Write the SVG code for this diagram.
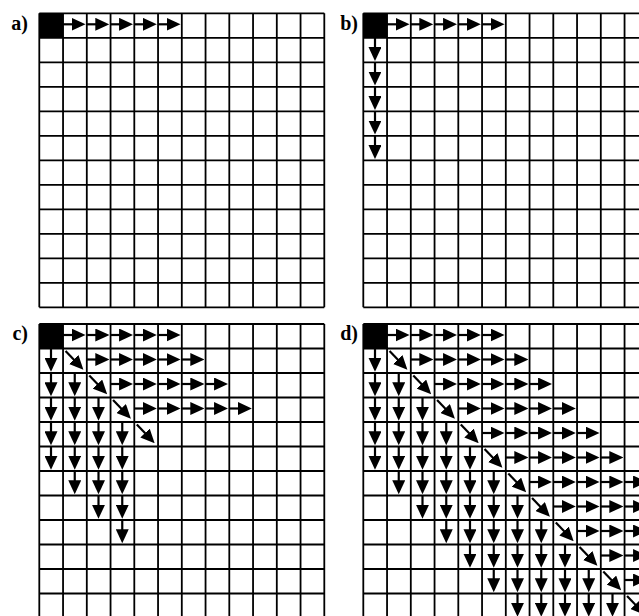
<svg xmlns="http://www.w3.org/2000/svg" width="639" height="616" viewBox="0 0 639 616">
<style>
.grid{fill:none;stroke:#000;stroke-width:1.8}
.arr{stroke:#000;stroke-width:2.2;fill:none;marker-end:url(#head)}
.lbl{font-family:"Liberation Serif","Times New Roman",serif;font-weight:bold;font-size:20px;fill:#000;text-anchor:end}
</style>
<defs>
<marker id="head" markerUnits="userSpaceOnUse" markerWidth="14" markerHeight="13" refX="10" refY="6.5" orient="auto" viewBox="0 0 14 13">
<path d="M0,0 L14,6.5 L0,13 z" fill="#000"/>
</marker>
<g id="grid">
<rect width="23.75" height="24.5" fill="#000"/>
<path class="grid" d="M0,0V294M23.75,0V294M47.5,0V294M71.25,0V294M95,0V294M118.75,0V294M142.5,0V294M166.25,0V294M190,0V294M213.75,0V294M237.5,0V294M261.25,0V294M285,0V294M0,0H285M0,24.5H285M0,49H285M0,73.5H285M0,98H285M0,122.5H285M0,147H285M0,171.5H285M0,196H285M0,220.5H285M0,245H285M0,269.5H285M0,294H285"/>
</g>
<line id="h" class="arr" x1="0" y1="11" x2="18.5" y2="11"/>
<line id="v" class="arr" x1="11.7" y1="0" x2="11.7" y2="19.3"/>
<line id="d" class="arr" x1="2.5" y1="2.5" x2="17.6" y2="18.3"/>
</defs>

<g id="panel-a" transform="translate(39.3,13.3)">
<use href="#grid"/>
<g id="connectors-a">
<use href="#h" x="23.75" y="0"/><use href="#h" x="47.5" y="0"/><use href="#h" x="71.25" y="0"/><use href="#h" x="95" y="0"/><use href="#h" x="118.75" y="0"/>
</g>
</g>
<text class="lbl" x="28" y="30">a)</text>

<g id="panel-b" transform="translate(363.3,13.3)">
<use href="#grid"/>
<g id="connectors-b">
<use href="#h" x="23.75" y="0"/><use href="#h" x="47.5" y="0"/><use href="#h" x="71.25" y="0"/><use href="#h" x="95" y="0"/><use href="#h" x="118.75" y="0"/>
<use href="#v" x="0" y="24.5"/><use href="#v" x="0" y="49"/><use href="#v" x="0" y="73.5"/><use href="#v" x="0" y="98"/><use href="#v" x="0" y="122.5"/>
</g>
</g>
<text class="lbl" x="358" y="30">b)</text>

<g id="panel-c" transform="translate(39.3,324)">
<use href="#grid"/>
<g id="connectors-c">
<use href="#h" x="23.75" y="0"/><use href="#h" x="47.5" y="0"/><use href="#h" x="71.25" y="0"/><use href="#h" x="95" y="0"/><use href="#h" x="118.75" y="0"/>
<use href="#d" x="23.75" y="24.5"/>
<use href="#h" x="47.5" y="24.5"/><use href="#h" x="71.25" y="24.5"/><use href="#h" x="95" y="24.5"/><use href="#h" x="118.75" y="24.5"/><use href="#h" x="142.5" y="24.5"/>
<use href="#d" x="47.5" y="49"/>
<use href="#h" x="71.25" y="49"/><use href="#h" x="95" y="49"/><use href="#h" x="118.75" y="49"/><use href="#h" x="142.5" y="49"/><use href="#h" x="166.25" y="49"/>
<use href="#d" x="71.25" y="73.5"/>
<use href="#h" x="95" y="73.5"/><use href="#h" x="118.75" y="73.5"/><use href="#h" x="142.5" y="73.5"/><use href="#h" x="166.25" y="73.5"/><use href="#h" x="190" y="73.5"/>
<use href="#d" x="95" y="98"/>
<use href="#v" x="0" y="24.5"/><use href="#v" x="0" y="49"/><use href="#v" x="0" y="73.5"/><use href="#v" x="0" y="98"/><use href="#v" x="0" y="122.5"/>
<use href="#v" x="23.75" y="49"/><use href="#v" x="23.75" y="73.5"/><use href="#v" x="23.75" y="98"/><use href="#v" x="23.75" y="122.5"/><use href="#v" x="23.75" y="147"/>
<use href="#v" x="47.5" y="73.5"/><use href="#v" x="47.5" y="98"/><use href="#v" x="47.5" y="122.5"/><use href="#v" x="47.5" y="147"/><use href="#v" x="47.5" y="171.5"/>
<use href="#v" x="71.25" y="98"/><use href="#v" x="71.25" y="122.5"/><use href="#v" x="71.25" y="147"/><use href="#v" x="71.25" y="171.5"/><use href="#v" x="71.25" y="196"/>
</g>
</g>
<text class="lbl" x="28" y="340">c)</text>

<g id="panel-d" transform="translate(363.3,324)">
<use href="#grid"/>
<g id="connectors-d">
<use href="#h" x="23.75" y="0"/><use href="#h" x="47.5" y="0"/><use href="#h" x="71.25" y="0"/><use href="#h" x="95" y="0"/><use href="#h" x="118.75" y="0"/>
<use href="#d" x="23.75" y="24.5"/>
<use href="#h" x="47.5" y="24.5"/><use href="#h" x="71.25" y="24.5"/><use href="#h" x="95" y="24.5"/><use href="#h" x="118.75" y="24.5"/><use href="#h" x="142.5" y="24.5"/>
<use href="#d" x="47.5" y="49"/>
<use href="#h" x="71.25" y="49"/><use href="#h" x="95" y="49"/><use href="#h" x="118.75" y="49"/><use href="#h" x="142.5" y="49"/><use href="#h" x="166.25" y="49"/>
<use href="#d" x="71.25" y="73.5"/>
<use href="#h" x="95" y="73.5"/><use href="#h" x="118.75" y="73.5"/><use href="#h" x="142.5" y="73.5"/><use href="#h" x="166.25" y="73.5"/><use href="#h" x="190" y="73.5"/>
<use href="#d" x="95" y="98"/>
<use href="#h" x="118.75" y="98"/><use href="#h" x="142.5" y="98"/><use href="#h" x="166.25" y="98"/><use href="#h" x="190" y="98"/><use href="#h" x="213.75" y="98"/>
<use href="#d" x="118.75" y="122.5"/>
<use href="#h" x="142.5" y="122.5"/><use href="#h" x="166.25" y="122.5"/><use href="#h" x="190" y="122.5"/><use href="#h" x="213.75" y="122.5"/><use href="#h" x="237.5" y="122.5"/>
<use href="#d" x="142.5" y="147"/>
<use href="#h" x="166.25" y="147"/><use href="#h" x="190" y="147"/><use href="#h" x="213.75" y="147"/><use href="#h" x="237.5" y="147"/><use href="#h" x="261.25" y="147"/>
<use href="#d" x="166.25" y="171.5"/>
<use href="#h" x="190" y="171.5"/><use href="#h" x="213.75" y="171.5"/><use href="#h" x="237.5" y="171.5"/><use href="#h" x="261.25" y="171.5"/>
<use href="#d" x="190" y="196"/>
<use href="#h" x="213.75" y="196"/><use href="#h" x="237.5" y="196"/><use href="#h" x="261.25" y="196"/>
<use href="#d" x="213.75" y="220.5"/>
<use href="#h" x="237.5" y="220.5"/><use href="#h" x="261.25" y="220.5"/>
<use href="#d" x="237.5" y="245"/>
<use href="#h" x="261.25" y="245"/>
<use href="#d" x="261.25" y="269.5"/>
<use href="#v" x="0" y="24.5"/><use href="#v" x="0" y="49"/><use href="#v" x="0" y="73.5"/><use href="#v" x="0" y="98"/><use href="#v" x="0" y="122.5"/>
<use href="#v" x="23.75" y="49"/><use href="#v" x="23.75" y="73.5"/><use href="#v" x="23.75" y="98"/><use href="#v" x="23.75" y="122.5"/><use href="#v" x="23.75" y="147"/>
<use href="#v" x="47.5" y="73.5"/><use href="#v" x="47.5" y="98"/><use href="#v" x="47.5" y="122.5"/><use href="#v" x="47.5" y="147"/><use href="#v" x="47.5" y="171.5"/>
<use href="#v" x="71.25" y="98"/><use href="#v" x="71.25" y="122.5"/><use href="#v" x="71.25" y="147"/><use href="#v" x="71.25" y="171.5"/><use href="#v" x="71.25" y="196"/>
<use href="#v" x="95" y="122.5"/><use href="#v" x="95" y="147"/><use href="#v" x="95" y="171.5"/><use href="#v" x="95" y="196"/><use href="#v" x="95" y="220.5"/>
<use href="#v" x="118.75" y="147"/><use href="#v" x="118.75" y="171.5"/><use href="#v" x="118.75" y="196"/><use href="#v" x="118.75" y="220.5"/><use href="#v" x="118.75" y="245"/>
<use href="#v" x="142.5" y="171.5"/><use href="#v" x="142.5" y="196"/><use href="#v" x="142.5" y="220.5"/><use href="#v" x="142.5" y="245"/><use href="#v" x="142.5" y="269.5"/>
<use href="#v" x="166.25" y="196"/><use href="#v" x="166.25" y="220.5"/><use href="#v" x="166.25" y="245"/><use href="#v" x="166.25" y="269.5"/>
<use href="#v" x="190" y="220.5"/><use href="#v" x="190" y="245"/><use href="#v" x="190" y="269.5"/>
<use href="#v" x="213.75" y="245"/><use href="#v" x="213.75" y="269.5"/>
<use href="#v" x="237.5" y="269.5"/>
</g>
</g>
<text class="lbl" x="358" y="340">d)</text>
</svg>
